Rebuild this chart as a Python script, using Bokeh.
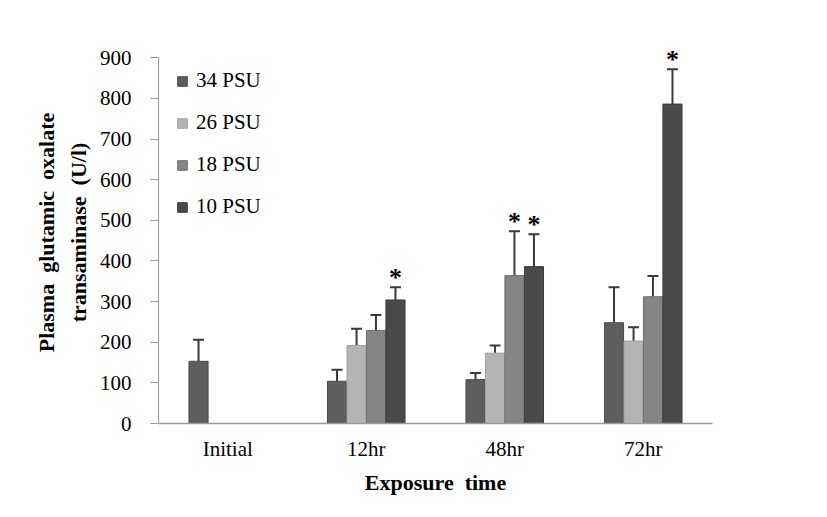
import math
from bokeh.plotting import figure
from bokeh.models import (Range1d, FixedTicker, Whisker, TeeHead, ColumnDataSource,
                          Legend, LegendItem, Title)
from bokeh.transform import dodge
from bokeh.core.properties import value
from bokeh.embed import file_html
from bokeh.resources import INLINE

# ---------------- data ----------------
categories = ["Initial", "12hr", "48hr", "72hr"]
series_names = ["34 PSU", "26 PSU", "18 PSU", "10 PSU"]
psu34 = [153, 104, 108, 248]
psu26 = [None, 192, 173, 203]
psu18 = [None, 229, 364, 312]
psu10 = [None, 304, 386, 786]
err34 = [53, 28, 16, 87]
err26 = [None, 41, 19, 34]
err18 = [None, 38, 109, 51]
err10 = [None, 31, 80, 86]
sig34 = [False, False, False, False]
sig26 = [False, False, False, False]
sig18 = [False, False, True, False]
sig10 = [False, True, True, True]
y_ticks = [0, 100, 200, 300, 400, 500, 600, 700, 800, 900]
y_title_lines = ["Plasma\u00a0 glutamic\u00a0 oxalate", "transaminase\u00a0 (U/l)"]
x_title = "Exposure\u00a0 time"

# ---------------- style ----------------
colors = ["#5e5e5e", "#b4b4b4", "#858585", "#4a4a4a"]
outlines = ["#4a4a4a", "#a0a0a0", "#707070", "#3c3c3c"]
offsets = [-0.211, -0.070, 0.070, 0.211]
bar_w = 0.138
FONT = "Liberation Serif"

p = figure(x_range=categories, y_range=Range1d(0, 940), width=811, height=500,
           output_backend="svg", toolbar_location=None,
           min_border_left=158, min_border_top=41, min_border_right=99,
           min_border_bottom=77)
p.outline_line_color = None
p.xgrid.grid_line_color = None
p.ygrid.grid_line_color = None
p.background_fill_color = "white"
p.border_fill_color = "white"

vals = [psu34, psu26, psu18, psu10]
errs = [err34, err26, err18, err10]
sigs = [sig34, sig26, sig18, sig10]

legend_items = []
for i in range(4):
    cats = [c for c, v in zip(categories, vals[i]) if v is not None]
    tops = [v for v in vals[i] if v is not None]
    es = [e for e, v in zip(errs[i], vals[i]) if v is not None]
    ss = [s for s, v in zip(sigs[i], vals[i]) if v is not None]
    src = ColumnDataSource(dict(cat=cats, top=tops, hi=[t + e for t, e in zip(tops, es)]))
    r = p.vbar(x=dodge("cat", offsets[i], range=p.x_range), top="top", width=bar_w,
               source=src, fill_color=colors[i], line_color=outlines[i], line_width=1)
    legend_items.append(LegendItem(label=series_names[i], renderers=[r]))
    w = Whisker(base=dodge("cat", offsets[i], range=p.x_range), upper="hi", lower="top",
                source=src, line_color="#3a3a3a", line_width=2,
                upper_head=TeeHead(size=11, line_color="#3a3a3a", line_width=2),
                lower_head=None)
    p.add_layout(w)
    scats = [c for c, s in zip(cats, ss) if s]
    shis = [t + e for t, e, s in zip(tops, es, ss) if s]
    if scats:
        ssrc = ColumnDataSource(dict(cat=scats, y=shis))
        p.text(x=dodge("cat", offsets[i], range=p.x_range), y="y", text=value("*"),
               source=ssrc, text_font=value(FONT), text_font_style="bold",
               text_font_size="26px", text_align="center",
               text_baseline="alphabetic", y_offset=-10, text_color="black")

legend = Legend(items=legend_items, location=(18, 204), orientation="vertical",
                glyph_width=12, glyph_height=12, label_height=22, spacing=17,
                label_standoff=8, padding=0, margin=0,
                border_line_color=None, background_fill_alpha=0,
                label_text_font=FONT, label_text_font_size="21px",
                label_text_color="black")
p.add_layout(legend)

# y axis
p.yaxis.ticker = FixedTicker(ticks=y_ticks)
p.yaxis.bounds = (0, 900)
p.yaxis.axis_line_color = "#9a9a9a"
p.yaxis.major_tick_line_color = "#9a9a9a"
p.yaxis.major_tick_out = 8
p.yaxis.major_tick_in = 0
p.yaxis.minor_tick_line_color = None
p.yaxis.major_label_text_font = FONT
p.yaxis.major_label_text_font_size = "21px"
p.yaxis.major_label_text_color = "black"
p.yaxis.major_label_standoff = 19

# x axis
p.xaxis.axis_line_color = "#9a9a9a"
p.xaxis.axis_line_width = 1.5
p.xaxis.major_tick_line_color = None
p.xaxis.minor_tick_line_color = None
p.xaxis.major_label_text_font = FONT
p.xaxis.major_label_text_font_size = "21px"
p.xaxis.major_label_text_color = "black"
p.xaxis.major_label_standoff = 7
p.xaxis.axis_label = x_title
p.xaxis.axis_label_text_font = FONT
p.xaxis.axis_label_text_font_size = "22px"
p.xaxis.axis_label_text_font_style = "bold"
p.xaxis.axis_label_text_color = "black"
p.xaxis.axis_label_standoff = 6

# y title (two lines, rotated), inner line first
for txt, sd, lh in [(y_title_lines[1], 11, 1.0), (y_title_lines[0], 0, 0.85)]:
    p.add_layout(Title(text=txt, align="center", standoff=sd, text_line_height=lh,
                       text_font=FONT, text_font_size="22px", text_font_style="bold",
                       text_color="black"), "left")

open("out.html", "w").write(file_html(p, INLINE))
